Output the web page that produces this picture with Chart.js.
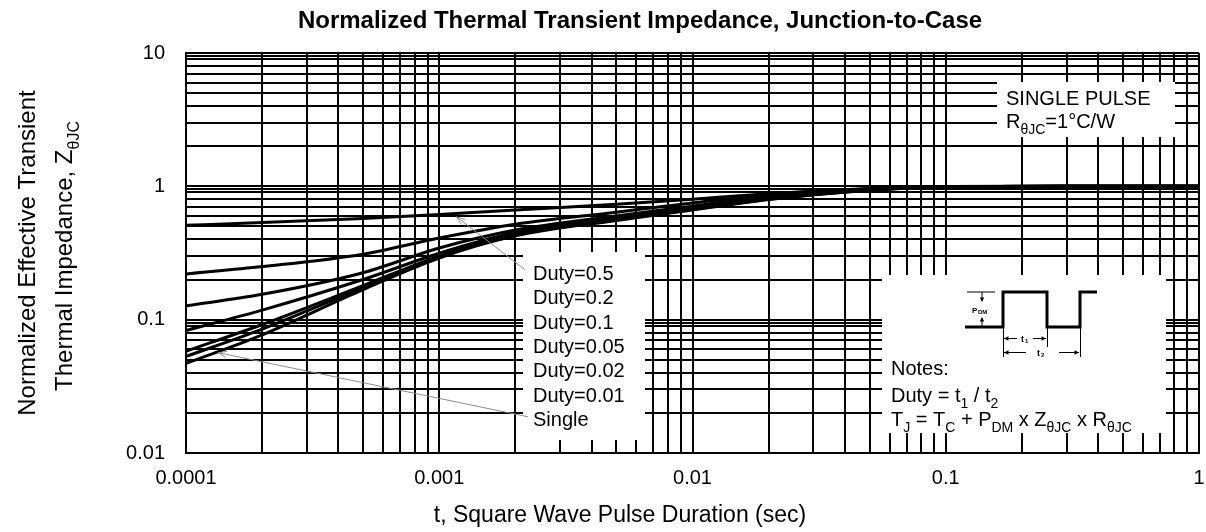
<!DOCTYPE html>
<html><head><meta charset="utf-8">
<script src="https://cdn.jsdelivr.net/npm/chart.js@4/dist/chart.umd.min.js"></script>
<style>html,body{margin:0;padding:0;background:#fff}#wrap{width:1206px;height:532px}</style>
</head><body><div id="wrap"><canvas id="c" width="1206" height="532"></canvas></div>
<script>
// ---- data ----
const pulseDuration = [1e-4, 2e-4, 5e-4, 1e-3, 2e-3, 5e-3, 1e-2, 2e-2, 5e-2, 1e-1, 3e-1, 1];
const duty05  = [0.51, 0.535, 0.575, 0.615, 0.665, 0.735, 0.80, 0.88, 0.965, 0.995, 1.0, 1.0];
const duty02  = [0.22, 0.25, 0.31, 0.41, 0.52, 0.64, 0.75, 0.865, 0.96, 0.995, 1.0, 1.0];
const duty01  = [0.127, 0.155, 0.225, 0.345, 0.47, 0.60, 0.71, 0.84, 0.955, 0.99, 1.0, 1.0];
const duty005 = [0.083, 0.118, 0.20, 0.315, 0.45, 0.58, 0.69, 0.82, 0.945, 0.99, 1.0, 1.0];
const duty002 = [0.058, 0.092, 0.18, 0.30, 0.435, 0.565, 0.675, 0.805, 0.94, 0.99, 1.0, 1.0];
const duty001 = [0.053, 0.085, 0.174, 0.295, 0.43, 0.56, 0.67, 0.80, 0.935, 0.99, 1.0, 1.0];
const single  = [0.047, 0.077, 0.168, 0.29, 0.425, 0.555, 0.665, 0.795, 0.935, 0.99, 1.0, 1.0];
const seriesLabels = ['Duty=0.5', 'Duty=0.2', 'Duty=0.1', 'Duty=0.05', 'Duty=0.02', 'Duty=0.01', 'Single'];
const xTickLabels = ['0.0001', '0.001', '0.01', '0.1', '1'];
const yTickLabels = ['0.01', '0.1', '1', '10'];
const xMinorSteps = [1, 2, 3, 4, 5, 6, 7, 8, 9];
const yMinorSteps = [1, 2, 3, 4, 5, 6, 7, 8, 9, 9.5];

const FONT = '"Liberation Sans", Arial, Helvetica, sans-serif';
const seriesValues = [duty05, duty02, duty01, duty005, duty002, duty001, single];

function buildTicks(minExp, maxExp, steps) {
  const out = [];
  for (let e = minExp; e <= maxExp; e++) {
    for (const s of steps) {
      const v = s * Math.pow(10, e);
      if (e === maxExp && s > 1) break;
      out.push({ value: v });
    }
  }
  return out;
}
function isDecade(v) { const l = Math.log10(v); return Math.abs(l - Math.round(l)) < 1e-9; }

function drawRuns(ctx, x, y, runs, size, align) {
  let w = 0;
  const measure = [];
  for (const [t, k] of runs) {
    const fs = k === 'n' ? size : Math.round(size * 0.68);
    ctx.font = fs + 'px ' + FONT;
    const m = ctx.measureText(t).width;
    measure.push([t, k, fs, m]); w += m;
  }
  let cx = align === 'center' ? x - w / 2 : x;
  ctx.textBaseline = 'alphabetic'; ctx.textAlign = 'left';
  for (const [t, k, fs, m] of measure) {
    ctx.font = fs + 'px ' + FONT;
    ctx.fillText(t, cx, k === 's' ? y + size * 0.28 : y);
    cx += m;
  }
}
function arrowHead(ctx, x1, y1, x2, y2, len, ang) {
  const a = Math.atan2(y2 - y1, x2 - x1);
  ctx.beginPath();
  ctx.moveTo(x2 - len * Math.cos(a - ang), y2 - len * Math.sin(a - ang));
  ctx.lineTo(x2, y2);
  ctx.lineTo(x2 - len * Math.cos(a + ang), y2 - len * Math.sin(a + ang));
  ctx.stroke();
}
function filledHead(ctx, x1, y1, x2, y2, len, ang) {
  const a = Math.atan2(y2 - y1, x2 - x1);
  ctx.beginPath();
  ctx.moveTo(x2 - len * Math.cos(a - ang), y2 - len * Math.sin(a - ang));
  ctx.lineTo(x2, y2);
  ctx.lineTo(x2 - len * Math.cos(a + ang), y2 - len * Math.sin(a + ang));
  ctx.closePath(); ctx.fill();
}

const annotations = {
  id: 'annotations',
  afterDraw(chart) {
    const ctx = chart.ctx;
    const xs = chart.scales.x, ys = chart.scales.y;
    ctx.save();
    // white boxes
    ctx.fillStyle = '#fff';
    ctx.fillRect(997, 82, 178, 55);
    ctx.fillRect(523, 252, 122, 188);
    ctx.fillRect(882, 275, 284, 158);
    ctx.fillStyle = '#000';
    // single pulse text
    ctx.font = '20px ' + FONT; ctx.textAlign = 'left'; ctx.textBaseline = 'alphabetic';
    ctx.fillText('SINGLE PULSE', 1006, 105);
    drawRuns(ctx, 1006, 128, [['R', 'n'], ['θJC', 's'], ['=1°C/W', 'n']], 20, 'left');
    // duty labels
    ctx.font = '20px ' + FONT;
    seriesLabels.forEach((s, i) => { ctx.fillText(s, 533, 280 + i * 24.3); });
    // leader lines
    ctx.strokeStyle = '#8c8c8c'; ctx.lineWidth = 1;
    const a1 = [xs.getPixelForValue(2.18e-3), ys.getPixelForValue(0.237)];
    const a1t = [xs.getPixelForValue(1.17e-3), ys.getPixelForValue(0.59)];
    ctx.beginPath(); ctx.moveTo(a1[0], a1[1]); ctx.lineTo(a1t[0], a1t[1]); ctx.stroke();
    arrowHead(ctx, a1[0], a1[1], a1t[0], a1t[1], 9, 0.35);
    const a2 = [xs.getPixelForValue(2.24e-3), ys.getPixelForValue(0.0187)];
    const a2t = [xs.getPixelForValue(1.34e-4), ys.getPixelForValue(0.0565)];
    ctx.beginPath(); ctx.moveTo(a2[0], a2[1]); ctx.lineTo(a2t[0], a2t[1]); ctx.stroke();
    arrowHead(ctx, a2[0], a2[1], a2t[0], a2t[1], 9, 0.35);
    // notes
    ctx.fillStyle = '#000';
    ctx.font = '20px ' + FONT;
    ctx.fillText('Notes:', 891, 375);
    drawRuns(ctx, 891, 402, [['Duty = t', 'n'], ['1', 's'], [' / t', 'n'], ['2', 's']], 20, 'left');
    drawRuns(ctx, 891, 426, [['T', 'n'], ['J', 's'], [' = T', 'n'], ['C', 's'], [' + P', 'n'], ['DM', 's'], [' x Z', 'n'], ['θJC', 's'], [' x R', 'n'], ['θJC', 's']], 20, 'left');
    // pulse diagram
    ctx.strokeStyle = '#000'; ctx.lineWidth = 3; ctx.lineJoin = 'miter';
    ctx.beginPath();
    ctx.moveTo(965, 327); ctx.lineTo(1003, 327); ctx.lineTo(1003, 292); ctx.lineTo(1047, 292);
    ctx.lineTo(1047, 327); ctx.lineTo(1080, 327); ctx.lineTo(1080, 292); ctx.lineTo(1097, 292);
    ctx.stroke();
    ctx.lineWidth = 1;
    ctx.beginPath(); ctx.moveTo(967, 292); ctx.lineTo(995, 292); ctx.stroke();
    ctx.beginPath(); ctx.moveTo(982, 292); ctx.lineTo(982, 301); ctx.stroke();
    filledHead(ctx, 982, 292, 982, 302, 5, 0.45);
    ctx.beginPath(); ctx.moveTo(982, 327); ctx.lineTo(982, 318); ctx.stroke();
    filledHead(ctx, 982, 327, 982, 317, 5, 0.45);
    ctx.font = 'bold 8px ' + FONT; ctx.textAlign = 'left';
    ctx.fillText('P', 972, 313);
    ctx.font = 'bold 6px ' + FONT; ctx.fillText('DM', 978, 314);
    // dimension lines
    ctx.lineWidth = 1;
    [[1003, 327, 357], [1047, 327, 347], [1080, 327, 357]].forEach(([x, a, b]) => {
      ctx.beginPath(); ctx.moveTo(x + 0.5, a); ctx.lineTo(x + 0.5, b); ctx.stroke();
    });
    ctx.beginPath(); ctx.moveTo(1004, 338.5); ctx.lineTo(1017, 338.5); ctx.moveTo(1033, 338.5); ctx.lineTo(1046, 338.5); ctx.stroke();
    filledHead(ctx, 1012, 338.5, 1004, 338.5, 5, 0.45);
    filledHead(ctx, 1038, 338.5, 1046, 338.5, 5, 0.45);
    ctx.beginPath(); ctx.moveTo(1004, 352.5); ctx.lineTo(1026, 352.5); ctx.moveTo(1059, 352.5); ctx.lineTo(1079, 352.5); ctx.stroke();
    filledHead(ctx, 1012, 352.5, 1004, 352.5, 5, 0.45);
    filledHead(ctx, 1071, 352.5, 1079, 352.5, 5, 0.45);
    ctx.font = 'bold 9px ' + FONT; ctx.fillText('t', 1021, 342);
    ctx.font = 'bold 6px ' + FONT; ctx.fillText('1', 1025, 343);
    ctx.font = 'bold 9px ' + FONT; ctx.fillText('t', 1037, 356);
    ctx.font = 'bold 6px ' + FONT; ctx.fillText('2', 1041, 357);
    // chart title
    ctx.font = 'bold 24px ' + FONT; ctx.textAlign = 'center'; ctx.textBaseline = 'middle';
    ctx.fillText('Normalized Thermal Transient Impedance, Junction-to-Case', 640, 21);
    // x axis title
    ctx.font = '23px ' + FONT;
    ctx.fillText('t, Square Wave Pulse Duration (sec)', 620, 516);
    // y axis title
    ctx.save();
    ctx.translate(28, 253); ctx.rotate(-Math.PI / 2);
    ctx.font = '24px ' + FONT; ctx.textAlign = 'center'; ctx.textBaseline = 'middle';
    ctx.fillText('Normalized Effective Transient', 0, 0);
    ctx.restore();
    ctx.save();
    ctx.translate(64, 256); ctx.rotate(-Math.PI / 2);
    drawRuns(ctx, 0, 8, [['Thermal Impedance, Z', 'n'], ['θJC', 's']], 24, 'center');
    ctx.restore();
    ctx.restore();
  }
};

const datasets = seriesValues.map((vals, i) => ({
  label: seriesLabels[i],
  data: pulseDuration.map((t, j) => ({ x: t, y: vals[j] })),
  borderColor: '#000', backgroundColor: '#000', borderWidth: 3,
  pointRadius: 0, fill: false, cubicInterpolationMode: 'monotone'
}));

new Chart(document.getElementById('c'), {
  type: 'line',
  data: { datasets },
  options: {
    responsive: false, animation: false, devicePixelRatio: 1,
    layout: { padding: { left: 0, right: 7, top: 53, bottom: 0 } },
    plugins: { legend: { display: false }, title: { display: false }, tooltip: { enabled: false } },
    scales: {
      x: {
        type: 'logarithmic', min: 1e-4, max: 1, position: 'bottom',
        afterBuildTicks: s => { s.ticks = buildTicks(-4, 0, xMinorSteps); },
        afterFit: s => { s.height = 79; s.paddingLeft = 0; s.paddingRight = 0; },
        grid: { color: '#000', lineWidth: 2, drawTicks: false },
        border: { color: '#000', width: 2 },
        ticks: {
          autoSkip: false, maxRotation: 0, padding: 13, color: '#000',
          font: { family: FONT, size: 20 },
          callback: v => isDecade(v) ? xTickLabels[Math.round(Math.log10(v)) + 4] : ''
        }
      },
      y: {
        type: 'logarithmic', min: 0.01, max: 10,
        afterBuildTicks: s => { s.ticks = buildTicks(-2, 1, yMinorSteps); },
        afterFit: s => { s.width = 186; s.paddingTop = 0; s.paddingBottom = 0; },
        grid: { color: '#000', lineWidth: 2, drawTicks: false },
        border: { color: '#000', width: 2 },
        ticks: {
          autoSkip: false, padding: 21, color: '#000',
          font: { family: FONT, size: 20 },
          callback: v => isDecade(v) ? yTickLabels[Math.round(Math.log10(v)) + 2] : ''
        }
      }
    }
  },
  plugins: [annotations]
});
</script></body></html>
